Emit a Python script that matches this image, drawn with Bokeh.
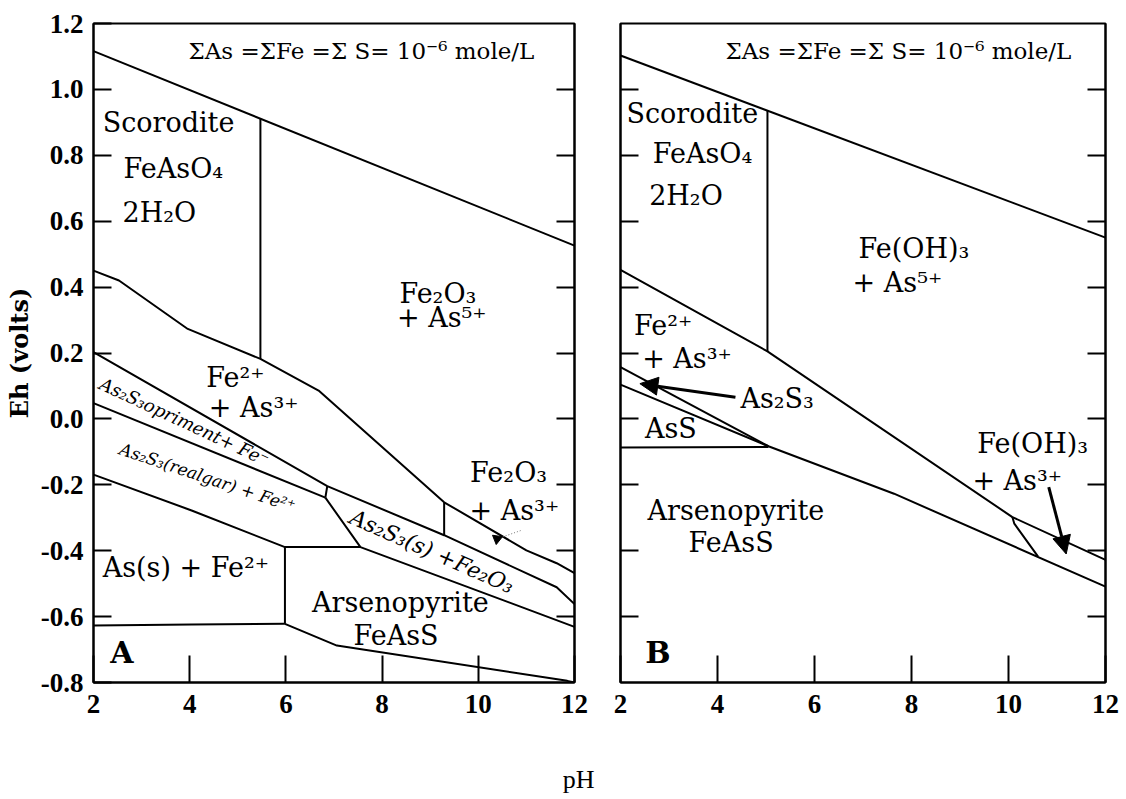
import math
from bokeh.plotting import figure
from bokeh.layouts import row, column
from bokeh.models import Range1d, LinearAxis, FixedTicker, Arrow, NormalHead
from bokeh.core.properties import value
from bokeh.embed import file_html
from bokeh.resources import INLINE

# ---------------- data ----------------
ph_ticks = [2, 4, 6, 8, 10, 12]
ph_tick_labels = ["2", "4", "6", "8", "10", "12"]
eh_ticks = [-0.8, -0.6, -0.4, -0.2, 0.0, 0.2, 0.4, 0.6, 0.8, 1.0, 1.2]
eh_tick_labels = ["-0.8", "-0.6", "-0.4", "-0.2", "0.0", "0.2", "0.4", "0.6", "0.8", "1.0", "1.2"]

# Panel A boundaries (pH, Eh)
a_water_ph = [2, 12]
a_water_eh = [1.116, 0.526]
a_scorodite_ph = [5.47, 5.47]
a_scorodite_eh = [0.911, 0.182]
a_fe2_upper_ph = [2, 2.53, 3.96, 5.47, 6.68, 9.29, 11.0, 11.63, 12]
a_fe2_upper_eh = [0.45, 0.42, 0.273, 0.182, 0.086, -0.253, -0.399, -0.438, -0.468]
a_orpiment_upper_ph = [2, 6.86, 9.29, 11.63, 12]
a_orpiment_upper_eh = [0.203, -0.204, -0.353, -0.511, -0.562]
a_fe2o3_split_ph = [9.29, 9.29]
a_fe2o3_split_eh = [-0.253, -0.353]
a_orpiment_lower_ph = [2, 6.82]
a_orpiment_lower_eh = [0.048, -0.239]
a_short_split_ph = [6.86, 6.82]
a_short_split_eh = [-0.204, -0.239]
a_as2s3s_lower_ph = [6.82, 7.55, 12]
a_as2s3s_lower_eh = [-0.239, -0.389, -0.631]
a_horizontal_ph = [5.98, 7.55]
a_horizontal_eh = [-0.389, -0.389]
a_realgar_lower_ph = [2, 4.04, 5.98]
a_realgar_lower_eh = [-0.169, -0.278, -0.389]
a_vertical_ph = [5.98, 5.98]
a_vertical_eh = [-0.389, -0.622]
a_ass_lower_ph = [2, 4.04, 5.98]
a_ass_lower_eh = [-0.627, -0.624, -0.622]
a_arsenopyrite_lower_ph = [5.98, 7.06, 11.85, 12]
a_arsenopyrite_lower_eh = [-0.622, -0.688, -0.795, -0.8]
a_pointer_ph = [10.39, 10.88]
a_pointer_eh = [-0.364, -0.339]

# Panel B boundaries (pH, Eh)
b_water_ph = [2, 12]
b_water_eh = [1.103, 0.55]
b_scorodite_ph = [5.03, 5.03]
b_scorodite_eh = [0.936, 0.205]
b_fe2_upper_ph = [2, 5.03, 10.08, 12]
b_fe2_upper_eh = [0.452, 0.205, -0.298, -0.428]
b_as2s3_upper_ph = [2, 5.05]
b_as2s3_upper_eh = [0.157, -0.083]
b_as2s3_lower_ph = [2, 5.05, 7.64, 12]
b_as2s3_lower_eh = [0.104, -0.083, -0.227, -0.509]
b_horizontal_ph = [2, 5.05]
b_horizontal_eh = [-0.087, -0.085]
b_feoh3_split_ph = [10.08, 10.12, 10.61]
b_feoh3_split_eh = [-0.298, -0.318, -0.418]

# Labels (text, pH, Eh)
sigma_text = "ΣAs =ΣFe =Σ S= 10⁻⁶ mole/L"
a_region_text = ["Scorodite", "FeAsO₄", "2H₂O", "Fe₂O₃", "+ As⁵⁺", "Fe²⁺", "+ As³⁺",
                 "As(s) + Fe²⁺", "Arsenopyrite", "FeAsS", "Fe₂O₃", "+ As³⁺"]
a_region_ph = [3.56, 3.66, 3.37, 9.16, 9.24, 4.95, 5.33, 3.92, 8.38, 8.29, 10.63, 10.75]
a_region_eh = [0.90, 0.759, 0.627, 0.38, 0.309, 0.125, 0.034, -0.45, -0.556, -0.657, -0.162, -0.278]
a_slanted_text = ["As₂S₃opriment+ Fe⁻", "As₂S₃(realgar) + Fe²⁺", "As₂S₃(s) +Fe₂O₃"]
a_slanted_ph = [3.89, 4.37, 9.04]
a_slanted_eh = [-0.008, -0.178, -0.402]

b_region_text = ["Scorodite", "FeAsO₄", "2H₂O", "Fe(OH)₃", "+ As⁵⁺", "Fe²⁺", "+ As³⁺",
                 "As₂S₃", "AsS", "Arsenopyrite", "FeAsS", "Fe(OH)₃", "+ As³⁺"]
b_region_ph = [3.48, 3.69, 3.35, 8.05, 7.71, 2.88, 3.37, 5.23, 3.04, 4.38, 4.28, 10.5, 10.18]
b_region_eh = [0.926, 0.804, 0.678, 0.516, 0.415, 0.283, 0.183, 0.061, -0.03, -0.278, -0.374, -0.076, -0.187]
b_arrow1 = (4.37, 0.066, 2.40, 0.107)
b_arrow2 = (10.83, -0.207, 11.19, -0.41)

SERIF = value("DejaVu Serif")
TICKFONT = "Liberation Serif"


def hide_labels(ax):
    ax.major_label_text_color = None
    ax.major_label_text_alpha = 0
    ax.major_label_text_font_size = "1px"
    ax.major_label_standoff = 0


def make_panel(frame_w, left_b, right_b, y_labels):
    p = figure(x_range=Range1d(2, 12), y_range=Range1d(-0.8, 1.2),
               frame_width=frame_w, frame_height=659,
               min_border_left=left_b, min_border_right=right_b,
               min_border_top=23, min_border_bottom=48,
               output_backend="svg", toolbar_location=None,
               background_fill_color="white", border_fill_color="white")
    p.grid.visible = False
    p.outline_line_color = "black"
    p.outline_line_width = 2

    xa = p.xaxis[0]
    xa.ticker = FixedTicker(ticks=ph_ticks)
    xa.major_label_overrides = dict(zip(ph_ticks, ph_tick_labels))
    xa.major_tick_in = 27
    xa.major_tick_out = 0
    xa.minor_tick_line_color = None
    xa.axis_line_width = 2
    xa.major_tick_line_width = 2
    xa.major_label_standoff = 12
    xa.major_label_text_font = TICKFONT
    xa.major_label_text_font_style = "bold"
    xa.major_label_text_font_size = "27px"
    xa.major_label_text_color = "black"

    ya = p.yaxis[0]
    ya.ticker = FixedTicker(ticks=eh_ticks[1:-1])
    ya.major_tick_in = 18
    ya.major_tick_out = 0
    ya.minor_tick_line_color = None
    ya.axis_line_width = 2
    ya.major_tick_line_width = 2
    if y_labels:
        ya.ticker = FixedTicker(ticks=eh_ticks)
        ya.major_label_overrides = dict(zip(eh_ticks, eh_tick_labels))
        ya.major_label_standoff = 10
        ya.major_label_text_font = TICKFONT
        ya.major_label_text_font_style = "bold"
        ya.major_label_text_font_size = "27px"
        ya.major_label_text_color = "black"
        ya.axis_label = "Eh (volts)"
        ya.axis_label_text_font = "DejaVu Serif"
        ya.axis_label_text_font_style = "bold"
        ya.axis_label_text_font_size = "24px"
        ya.axis_label_text_color = "black"
        ya.axis_label_standoff = 4
    else:
        hide_labels(ya)

    ra = LinearAxis(ticker=FixedTicker(ticks=eh_ticks[1:-1]),
                    major_tick_in=18, major_tick_out=0,
                    minor_tick_line_color=None, axis_line_width=2,
                    major_tick_line_width=2)
    hide_labels(ra)
    p.add_layout(ra, "right")
    return p


def draw(p, xs, ys):
    p.line(xs, ys, line_color="black", line_width=2)


# ---------------- Panel A ----------------
pa = make_panel(481, 93, 23, True)
for xs, ys in [(a_water_ph, a_water_eh), (a_scorodite_ph, a_scorodite_eh),
               (a_fe2_upper_ph, a_fe2_upper_eh), (a_orpiment_upper_ph, a_orpiment_upper_eh),
               (a_fe2o3_split_ph, a_fe2o3_split_eh), (a_orpiment_lower_ph, a_orpiment_lower_eh),
               (a_short_split_ph, a_short_split_eh), (a_as2s3s_lower_ph, a_as2s3s_lower_eh),
               (a_horizontal_ph, a_horizontal_eh), (a_realgar_lower_ph, a_realgar_lower_eh),
               (a_vertical_ph, a_vertical_eh), (a_ass_lower_ph, a_ass_lower_eh),
               (a_arsenopyrite_lower_ph, a_arsenopyrite_lower_eh)]:
    draw(pa, xs, ys)
pa.line(a_pointer_ph, a_pointer_eh, line_color="#777777", line_width=1, line_dash="1 2")
pa.scatter([a_pointer_ph[0]], [a_pointer_eh[0]], marker="triangle", size=10,
           angle=0.9, fill_color="black", line_color="black")

pa.text([7.57], [1.118], text=[sigma_text], text_font=SERIF, text_font_size="23px",
        text_align="center", text_baseline="middle", text_color="black")
pa.text(a_region_ph, a_region_eh, text=a_region_text, text_font=SERIF, text_font_size="27px",
        text_align="center", text_baseline="middle", text_color="black")
slant_angles = [-25, -18.5, -23.7]
slant_sizes = ["18px", "17px", "22px"]
for t, x, y, ang, sz in zip(a_slanted_text, a_slanted_ph, a_slanted_eh, slant_angles, slant_sizes):
    pa.text([x], [y], text=[t], angle=math.radians(ang), text_font=SERIF, text_font_size=sz,
            text_font_style="italic", text_align="center", text_baseline="middle", text_color="black")
pa.text([2.59], [-0.708], text=["A"], text_font=SERIF, text_font_size="30px",
        text_font_style="bold", text_align="center", text_baseline="middle", text_color="black")

# ---------------- Panel B ----------------
pb = make_panel(485, 23, 20, False)
for xs, ys in [(b_water_ph, b_water_eh), (b_scorodite_ph, b_scorodite_eh),
               (b_fe2_upper_ph, b_fe2_upper_eh), (b_as2s3_upper_ph, b_as2s3_upper_eh),
               (b_as2s3_lower_ph, b_as2s3_lower_eh), (b_horizontal_ph, b_horizontal_eh),
               (b_feoh3_split_ph, b_feoh3_split_eh)]:
    draw(pb, xs, ys)

pb.text([7.73], [1.118], text=[sigma_text], text_font=SERIF, text_font_size="23px",
        text_align="center", text_baseline="middle", text_color="black")
pb.text(b_region_ph, b_region_eh, text=b_region_text, text_font=SERIF, text_font_size="27px",
        text_align="center", text_baseline="middle", text_color="black")
pb.text([2.77], [-0.708], text=["B"], text_font=SERIF, text_font_size="30px",
        text_font_style="bold", text_align="center", text_baseline="middle", text_color="black")
for (x0, y0, x1, y1) in [b_arrow1, b_arrow2]:
    pb.add_layout(Arrow(x_start=x0, y_start=y0, x_end=x1, y_end=y1, line_width=3,
                        line_color="black",
                        end=NormalHead(size=18, fill_color="black", line_color="black")))

# ---------------- shared x-axis title ----------------
pc = figure(width=1125, height=66, x_range=Range1d(0, 1), y_range=Range1d(0, 1),
            min_border=0, output_backend="svg", toolbar_location=None,
            background_fill_color="white", border_fill_color="white")
pc.axis.visible = False
pc.grid.visible = False
pc.outline_line_color = None
pc.text([0.514], [0.26], text=["pH"], text_font=value("Liberation Serif"), text_font_size="26px",
        text_align="center", text_baseline="middle", text_color="black")

layout = column(row(pa, pb), pc)
open("out.html", "w").write(file_html(layout, INLINE))
